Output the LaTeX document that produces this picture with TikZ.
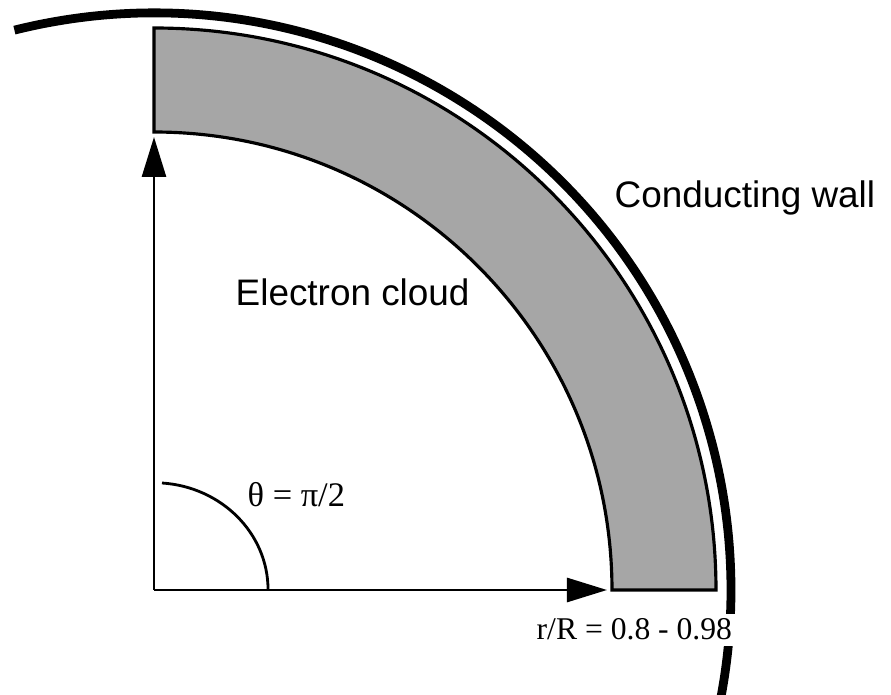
\documentclass[tikz,border=0pt]{standalone}
\usepackage{fontspec}
\setmainfont{Liberation Serif}
\setsansfont{Liberation Sans}
\usetikzlibrary{arrows.meta}
\tikzset{
axisarrow/.style={line width=0.8pt,-{Triangle[length=4mm,width=2.4mm]}},
wall/.style={line width=2.5pt},
sflabel/.style={font=\sffamily\fontsize{10.5}{12}\selectfont,anchor=base west,inner sep=0pt},
rmlabel/.style={font=\fontsize{9}{11}\selectfont}
}
\begin{document}
\begin{tikzpicture}[scale=1]
\useasboundingbox (-1.54,-1.05) rectangle (7.37,5.90);
\coordinate (O) at (0,0);
\coordinate (xend) at (4.53,0);
\coordinate (yend) at (0,4.53);
% electron cloud ring
\draw[fill=black!35,line width=0.9pt] (4.58,0) -- (5.62,0) arc[start angle=0,end angle=90,radius=5.62] -- (0,4.58) arc[start angle=90,end angle=0,radius=4.58] -- cycle;
% wall
\draw[wall] (104:5.77) arc[start angle=104,end angle=-15,radius=5.77];
\foreach \p in {xend,yend}{
\draw[axisarrow] (O) -- (\p);
}
\draw[line width=0.8pt] (0.08,1.07) arc[start angle=86,end angle=0,x radius=1.14,y radius=1.07];
\node[rmlabel,font=\fontsize{9.8}{11}\selectfont,anchor=base west,inner sep=0pt] (angle) at (0.93,0.83) {θ\kern0.25em=\kern0.25emπ/2};
\node[rmlabel,anchor=base east,fill=white,inner sep=1.5pt] (ratio) at (5.84,-0.50) {r/R = 0.8 - 0.98};
\node[sflabel] (cloud) at (0.81,2.84) {Electron cloud};
\node[sflabel] (walllabel) at (4.60,3.83) {Conducting wall};
\end{tikzpicture}
\end{document}
